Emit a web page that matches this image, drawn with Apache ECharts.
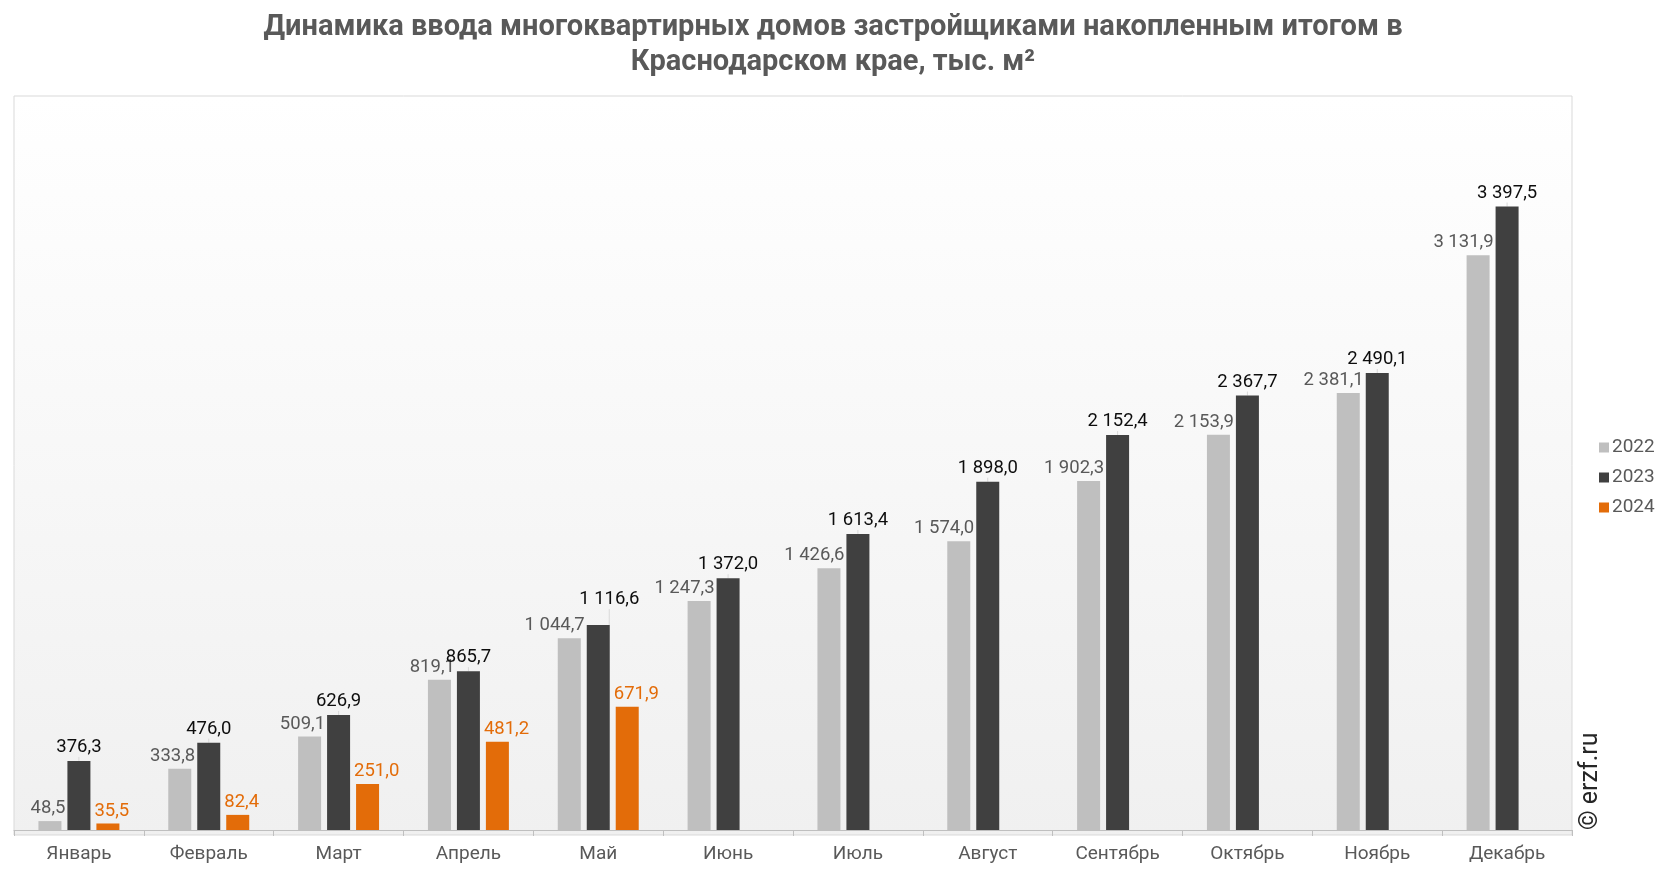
<!DOCTYPE html>
<html>
<head>
<meta charset="utf-8">
<script src="https://cdn.jsdelivr.net/npm/echarts@6/dist/echarts.min.js"></script>
<style>
  html, body { margin: 0; padding: 0; background: #fff; }
  #chart { width: 1666px; height: 872px; }
</style>
</head>
<body>
<div id="chart"></div>
<script>
const months = ['Январь', 'Февраль', 'Март', 'Апрель', 'Май', 'Июнь', 'Июль', 'Август', 'Сентябрь', 'Октябрь', 'Ноябрь', 'Декабрь'];
const years = ['2022', '2023', '2024'];
const v2022 = [48.5, 333.8, 509.1, 819.1, 1044.7, 1247.3, 1426.6, 1574.0, 1902.3, 2153.9, 2381.1, 3131.9];
const v2023 = [376.3, 476.0, 626.9, 865.7, 1116.6, 1372.0, 1613.4, 1898.0, 2152.4, 2367.7, 2490.1, 3397.5];
const v2024 = [35.5, 82.4, 251.0, 481.2, 671.9, null, null, null, null, null, null, null];

const FONT = 'Roboto';

// 1 044,7
const fmt = (p) => {
    const parts = p.value.toFixed(1).split('.');
    return parts[0].replace(/\B(?=(\d{3})+(?!\d))/g, ' ') + ',' + parts[1];
};

const chart = echarts.init(document.getElementById('chart'));

const option = {
    animation: false,
    textStyle: { fontFamily: FONT },
    title: {
        text: 'Динамика ввода многоквартирных домов застройщиками накопленным итогом в\nКраснодарском крае, тыс. м²',
        left: 'center',
        top: 5,
        textStyle: { fontFamily: FONT, fontSize: 29, fontWeight: 'bold', color: '#595959', lineHeight: 35 }
    },
    legend: {
        orient: 'vertical',
        left: 1594,
        top: 433,
        itemWidth: 10,
        itemHeight: 10,
        itemGap: 11,
        icon: 'rect',
        textStyle: { fontFamily: FONT, fontSize: 19, color: '#595959', padding: [0, 0, 0, -2] },
        data: years
    },
    graphic: [
        {
            type: 'rect',
            z: -10,
            shape: { x: 14, y: 96, width: 1558, height: 739 },
            style: {
                fill: new echarts.graphic.LinearGradient(0, 0, 0, 1, [
                    { offset: 0, color: '#ffffff' },
                    { offset: 1, color: '#f0f0f0' }
                ]),
                stroke: '#d9d9d9',
                lineWidth: 1
            }
        },
        {
            type: 'text',
            x: 1591,
            y: 830,
            rotation: Math.PI / 2,
            style: { text: '© erzf.ru', fontFamily: FONT, fontSize: 25, fill: '#262626', textVerticalAlign: 'middle' }
        }
    ],
    grid: { left: 14, right: 94, top: 96, bottom: 42 },
    xAxis: {
        type: 'category',
        data: months,
        axisLine: { lineStyle: { color: '#bfbfbf', width: 1 } },
        axisTick: { show: true, length: 6, lineStyle: { color: '#bfbfbf' } },
        axisLabel: { fontFamily: FONT, fontSize: 19, color: '#595959', margin: 15 }
    },
    yAxis: {
        type: 'value',
        min: 0,
        max: 4000,
        show: false,
        splitLine: { show: false }
    },
    series: [
        {
            name: '2022',
            type: 'bar',
            data: v2022,
            barWidth: 23,
            barGap: '26%',
            itemStyle: { color: '#bfbfbf' },
            label: {
                show: true,
                position: ['100%', 0],
                align: 'right',
                verticalAlign: 'bottom',
                offset: [4, -3],
                formatter: fmt,
                fontFamily: FONT,
                fontSize: 18.5,
                color: '#595959'
            }
        },
        {
            name: '2023',
            type: 'bar',
            data: v2023,
            barWidth: 23,
            barGap: '26%',
            itemStyle: { color: '#404040' },
            label: {
                show: true,
                position: 'top',
                distance: 4,
                formatter: fmt,
                fontFamily: FONT,
                fontSize: 18.5,
                color: '#0d0d0d'
            },
            labelLine: { show: true, lineStyle: { color: '#d9d9d9', width: 1 } },
            labelLayout: (p) => p.dataIndex === 4 ? { dx: 11, dy: -12 } : {}
        },
        {
            name: '2024',
            type: 'bar',
            data: v2024,
            barWidth: 23,
            barGap: '26%',
            itemStyle: { color: '#e36c09' },
            label: {
                show: true,
                position: [0, 0],
                align: 'left',
                verticalAlign: 'bottom',
                offset: [-2, -3],
                formatter: fmt,
                fontFamily: FONT,
                fontSize: 18.5,
                color: '#e36c09'
            }
        }
    ]
};

chart.setOption(option);
</script>
</body>
</html>
